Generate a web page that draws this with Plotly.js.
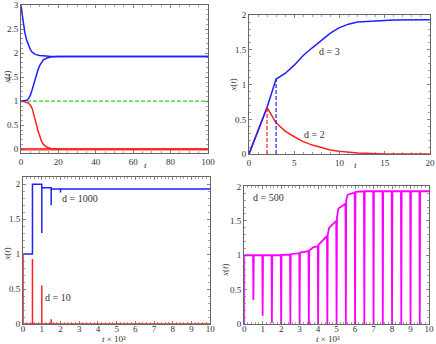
<!DOCTYPE html>
<html>
<head>
<meta charset="utf-8">
<script src="https://cdn.plot.ly/plotly-3.0.1.min.js"></script>
<style>
  html, body { margin: 0; padding: 0; background: #fff; }
  #chart { width: 436px; height: 344px; }
</style>
</head>
<body>
<div id="chart"></div>
<script>
// panel 1: t from 0 to 100
const t1Down = [0, 1, 2, 3, 4, 5, 6, 8, 10, 12, 15, 20, 100];
const x1Down = [3, 2.7, 2.45, 2.28, 2.16, 2.08, 2.02, 1.97, 1.95, 1.94, 1.935, 1.93, 1.93];
const t1Up = [0, 2, 3, 4, 5, 6, 7, 8, 9, 10, 11, 12, 14, 16, 20, 25, 100];
const x1Up = [1, 1.005, 1.02, 1.05, 1.12, 1.24, 1.38, 1.52, 1.64, 1.74, 1.81, 1.86, 1.9, 1.92, 1.93, 1.93, 1.93];
const t1Fall = [0, 2, 4, 5, 6, 7, 8, 9, 10, 11, 12, 14, 16, 20, 100];
const x1Fall = [1, 0.99, 0.96, 0.92, 0.85, 0.72, 0.56, 0.4, 0.27, 0.17, 0.1, 0.04, 0.015, 0.005, 0];
const t1Zero = [0, 100];
const x1Zero = [0, 0];
const t1One = [0, 100];
const x1One = [1, 1];

// panel 2: t from 0 to 20
const t2Red = [0, 2, 3, 4, 5, 6, 7, 7.5, 8, 9, 10, 12, 15, 20];
const x2Red = [0, 0.67, 0.45, 0.33, 0.25, 0.18, 0.13, 0.11, 0.09, 0.06, 0.04, 0.015, 0.003, 0];
const t2Blue = [0, 2, 3, 4, 5, 6, 7, 8, 9, 10, 11, 12, 14, 16, 20];
const x2Blue = [0, 0.67, 1.08, 1.16, 1.28, 1.42, 1.53, 1.64, 1.74, 1.82, 1.87, 1.9, 1.92, 1.93, 1.935];
const t2RedDash = [2, 2];
const x2RedDash = [0, 0.67];
const t2BlueDash = [3, 3];
const x2BlueDash = [0, 1.08];

// panel 3: t x 10^3 from 0 to 10
const t3Blue = [0, 0.5, 0.5, 1.0, 1.0, 1.0, 1.5, 1.5, 1.5, 2.0, 2.0, 2.0, 10];
const x3Blue = [1, 1, 2.0, 2.0, 1.3, 1.95, 1.95, 1.7, 1.93, 1.93, 1.88, 1.93, 1.93];
const t3Red = [0, 0, 0.5, 0.5, 0.5, 1.0, 1.0, 1.0, 1.5, 1.5, 1.5, 10];
const x3Red = [1, 0, 0, 0.93, 0, 0, 0.55, 0, 0, 0.07, 0, 0];

// panel 4: t x 10^3 from 0 to 10
const t4 = [0, 0, 0.48, 0.5, 0.52, 0.98, 1.0, 1.02, 1.48, 1.5, 1.52, 1.98, 2.0, 2.02,
  2.48, 2.5, 2.52, 2.98, 3.0, 3.02, 3.25, 3.48, 3.5, 3.52, 3.75, 3.98, 4.0, 4.02, 4.2,
  4.48, 4.5, 4.52, 4.6, 4.98, 5.0, 5.02, 5.1, 5.48, 5.5, 5.52, 5.6, 5.98, 6.0, 6.02,
  6.48, 6.5, 6.52, 6.98, 7.0, 7.02, 7.48, 7.5, 7.52, 7.98, 8.0, 8.02, 8.48, 8.5, 8.52,
  8.98, 9.0, 9.02, 9.48, 9.5, 9.52, 10];
const x4 = [0, 1, 1, 0.35, 1, 1, 0.12, 1, 1, 0.02, 1, 1, 0, 1.005,
  1.01, 0, 1.015, 1.03, 0, 1.04, 1.05, 1.06, 0, 1.07, 1.12, 1.13, 0, 1.15, 1.2,
  1.28, 0, 1.3, 1.4, 1.5, 0, 1.55, 1.68, 1.75, 0, 1.8, 1.88, 1.91, 0, 1.92,
  1.93, 0, 1.93, 1.93, 0, 1.93, 1.93, 0, 1.93, 1.93, 0, 1.93, 1.93, 0, 1.93,
  1.93, 0, 1.93, 1.93, 0, 1.93, 1.93];

const blue = '#1f1fff';
const red = '#ff2020';
const frameCol = '#666';
const txtCol = '#333';
const serif = 'Times New Roman, Liberation Serif, DejaVu Serif, serif';

function line(x, y, color, xa, ya, extra) {
  return Object.assign({
    x: x, y: y, type: 'scatter', mode: 'lines', xaxis: xa, yaxis: ya,
    line: { color: color, width: 1.5 }, hoverinfo: 'skip'
  }, extra || {});
}

const traces = [
  line(t1Zero, x1Zero, red, 'x', 'y', { line: { color: '#ff4040', width: 2.5 } }),
  line(t1One, x1One, '#33cc33', 'x', 'y', { line: { color: '#33cc33', width: 1.2, dash: '4px,2px' } }),
  line(t1Fall, x1Fall, red, 'x', 'y'),
  line(t1Down, x1Down, blue, 'x', 'y'),
  line(t1Up, x1Up, blue, 'x', 'y'),

  line(t2Red, x2Red, red, 'x2', 'y2'),
  line(t2Blue, x2Blue, blue, 'x2', 'y2'),
  line(t2RedDash, x2RedDash, red, 'x2', 'y2', { line: { color: red, width: 1.2, dash: '4px,2px' } }),
  line(t2BlueDash, x2BlueDash, blue, 'x2', 'y2', { line: { color: blue, width: 1.2, dash: '4px,2px' } }),

  line(t3Red, x3Red, red, 'x3', 'y3'),
  line(t3Blue, x3Blue, blue, 'x3', 'y3'),

  line(t4, x4, '#ff00ff', 'x4', 'y4', { line: { color: '#ff00ff', width: 1.8 } })
];

function axis(domain, range, dtick, minor, anchor, standoff) {
  return {
    domain: domain, range: range, anchor: anchor,
    dtick: dtick, tick0: 0,
    ticks: 'inside', ticklen: 3, tickcolor: frameCol, tickwidth: 0.8,
    minor: { ticks: 'inside', ticklen: 2, dtick: minor, tickcolor: frameCol, tickwidth: 0.6 },
    showline: true, linecolor: frameCol, linewidth: 1, mirror: 'allticks',
    showgrid: false, zeroline: false,
    ticklabelstandoff: standoff || 0,
    tickfont: { family: serif, size: 9, color: txtCol },
    automargin: false
  };
}

const xt = '<i>x</i>(<i>t</i>)';
const tt = '<i>t</i> × 10³';
const labFont = { family: serif, size: 10, color: txtCol };
const axFont = { family: serif, size: 9, color: txtCol };

// axis titles placed as paper annotations, like the original sits them in the tick row
function axTitle(x, y, text, rot) {
  return { x: x, y: y, xref: 'paper', yref: 'paper', text: text, showarrow: false,
    textangle: rot, font: axFont, xanchor: 'center', yanchor: 'middle' };
}

function note(x, y, ax, text) {
  return { x: x, y: y, xref: 'x' + ax, yref: 'y' + ax, text: text, showarrow: false, font: labFont };
}

const layout = {
  width: 436, height: 344,
  margin: { l: 0, r: 0, t: 0, b: 0 },
  paper_bgcolor: '#fff', plot_bgcolor: '#fff',
  showlegend: false,
  xaxis: axis([0.048, 0.477], [0, 100], 20, 5, 'y'),
  yaxis: axis([0.555, 0.985], [-0.08, 3], 0.5, 0.1, 'x'),
  xaxis2: axis([0.571, 0.986], [0, 20], 5, 1, 'y2'),
  yaxis2: axis([0.552, 0.956], [0, 2], 0.5, 0.1, 'x2'),
  xaxis3: axis([0.053, 0.482], [0, 10], 1, 0.2, 'y3', -4),
  yaxis3: axis([0.058, 0.485], [0, 2.1], 0.5, 0.1, 'x3'),
  xaxis4: axis([0.560, 0.984], [0, 10], 1, 0.2, 'y4', -4),
  yaxis4: axis([0.058, 0.458], [0, 2], 0.5, 0.1, 'x4'),
  annotations: [
    axTitle(0.016, 0.776, xt, -90),
    axTitle(0.333, 0.521, '<i>t</i>', 0),
    axTitle(0.534, 0.753, xt, -90),
    axTitle(0.816, 0.521, '<i>t</i>', 0),
    axTitle(0.016, 0.262, xt, -90),
    axTitle(0.262, 0.0145, tt, 0),
    axTitle(0.752, 0.0145, tt, 0),
    axTitle(0.516, 0.215, xt, -90),
    note(8.9, 1.47, '2', 'd = 3'),
    note(7.2, 0.28, '2', 'd = 2'),
    note(3.05, 1.8, '3', 'd = 1000'),
    note(1.84, 0.38, '3', 'd = 10'),
    note(1.3, 1.84, '4', 'd = 500')
  ]
};

Plotly.newPlot('chart', traces, layout, { displayModeBar: false, staticPlot: true });
</script>
</body>
</html>
